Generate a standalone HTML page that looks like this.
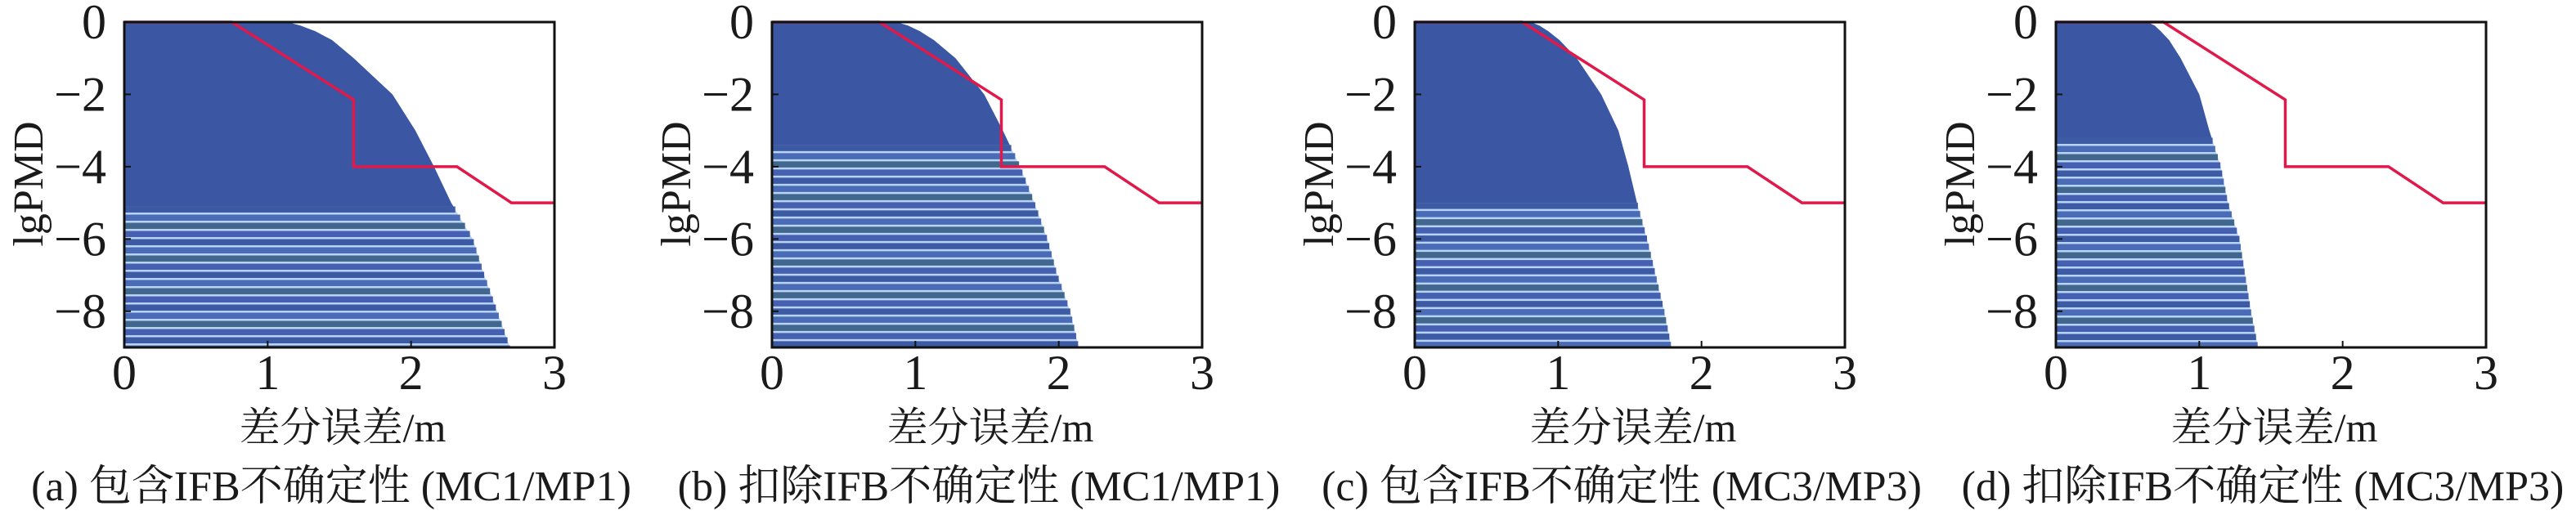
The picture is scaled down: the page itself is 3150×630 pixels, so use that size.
<!DOCTYPE html>
<html><head><meta charset="utf-8">
<style>
html,body{margin:0;padding:0;background:#fff;}
svg{display:block;}
text{font-family:"Liberation Serif","Noto Serif CJK SC","Noto Sans CJK SC",serif;fill:#1a1a1a;}
</style></head>
<body>
<svg id="chart" width="3150" height="630" viewBox="0 0 3150 630" xmlns="http://www.w3.org/2000/svg"></svg>
<script>
// ----- data -----
const yLevels = [0,-0.1,-0.25,-0.5,-1,-2,-3,-4,-5,-6,-7,-8,-9];
const envA = [1.14,1.23,1.33,1.45,1.6,1.87,2.03,2.16,2.28,2.43,2.51,2.6,2.69];
const envB = [0.87,0.95,1.03,1.13,1.28,1.48,1.61,1.73,1.83,1.92,1.99,2.08,2.14];
const envC = [0.81,0.87,0.93,1.01,1.13,1.3,1.42,1.49,1.55,1.62,1.68,1.74,1.79];
const envD = [0.64,0.69,0.73,0.79,0.87,1.0,1.07,1.15,1.2,1.28,1.32,1.36,1.41];
const solidLevels = [-5.1,-3.4,-5.0,-3.2];
const limitX = [0,0.75,1.6,1.6,2.32,2.7,3];
const limitY = [0,0,-2.15,-4,-4,-5,-5];
const xTicks = [0,1,2,3];
const yTicks = [0,-2,-4,-6,-8];
const captions = ["(a) 包含IFB不确定性 (MC1/MP1)","(b) 扣除IFB不确定性 (MC1/MP1)","(c) 包含IFB不确定性 (MC3/MP3)","(d) 扣除IFB不确定性 (MC3/MP3)"];
const panelLefts = [152,944,1730,2514];
const envs = [envA,envB,envC,envD];

const NS="http://www.w3.org/2000/svg";
const svg=document.getElementById('chart');
const W=526, TOP=27, BOT=425;
function mk(tag,attrs,parent){const e=document.createElementNS(NS,tag);for(const k in attrs)e.setAttribute(k,attrs[k]);(parent||svg).appendChild(e);return e;}
function envAt(env,v){
  if(v>=yLevels[0])return env[0];
  for(let i=0;i<yLevels.length-1;i++){
    if(v<=yLevels[i]&&v>=yLevels[i+1]){
      const f=(yLevels[i]-v)/(yLevels[i]-yLevels[i+1]);
      return env[i]*(1-f)+env[i+1]*f;
    }
  }
  return env[env.length-1];
}
const stripeCols=["#3d5aa5","#4a6bb6","#42678e","#4560b0"];

for(let p=0;p<4;p++){
  const L=panelLefts[p];
  const xs=v=>L+v/3*W;
  const ys=v=>TOP+(-v)/9*(BOT-TOP);
  const g=mk('g',{});
  
  
  const env=envs[p];
  let pts=[[xs(0),ys(0)]];
  for(let i=0;i<yLevels.length;i++)pts.push([xs(env[i]),ys(yLevels[i])]);
  pts.push([xs(0),ys(-9)]);
  const bg=mk('polygon',{points:pts.map(q=>q.join(',')).join(' '),fill:'#b9d4f2'},g);
  
  
  const sl=solidLevels[p];
  let sp=[[xs(0),ys(0)]];
  for(let v=0;v>=sl;v-=0.05)sp.push([xs(envAt(env,v)),ys(v)]);
  sp.push([xs(envAt(env,sl)),ys(sl)]);sp.push([xs(0),ys(sl)]);
  const solid=mk('polygon',{points:sp.map(q=>q.join(',')).join(' '),fill:'#3b56a2'},g);
  
  
  let k=0;
  for(let py=ys(sl);py<BOT-1;py+=10){
    const v=-(py+4-TOP)/(BOT-TOP)*9;
    const xe=xs(envAt(env,Math.max(-9,v)));
    const r=mk('rect',{x:xs(0),y:py,width:xe-xs(0),height:Math.min(7.5,BOT-py),fill:stripeCols[k%4]},g);
    
    
    k++;
  }
  const lp=limitX.map((x,i)=>xs(x)+','+ys(limitY[i])).join(' ');
  const line=mk('polyline',{points:lp,fill:'none',stroke:'#e0194a',"stroke-width":3.5,"stroke-linejoin":"miter"},g);
  
  
  const fr=mk('rect',{x:L,y:TOP,width:W,height:BOT-TOP,fill:'none',stroke:'#111',"stroke-width":3},g);
  
  
  xTicks.forEach(t=>{
    const tk=mk('line',{x1:xs(t),x2:xs(t),y1:BOT,y2:BOT-8,stroke:'#111',"stroke-width":2},g);
    
    
    const tx=mk('text',{x:xs(t),y:476,"text-anchor":"middle","font-size":60},g);
    tx.textContent=t;
    
    
  });
  yTicks.forEach(t=>{
    const tk=mk('line',{x1:L,x2:L+8,y1:ys(t),y2:ys(t),stroke:'#111',"stroke-width":2},g);
    
    
    const tx=mk('text',{x:L-22,y:ys(t)+20,"text-anchor":"end","font-size":60},g);
    tx.textContent=t===0?'0':'\u2212'+(-t);
    
    
  });
  const yt=mk('text',{x:0,y:0,"text-anchor":"middle","font-size":52,transform:`translate(${L-100},225) rotate(-90)`},g);
  yt.textContent='lgPMD';
  
  
  const xt=mk('text',{x:L+W/2+4,y:540,"text-anchor":"middle","font-size":50},g);
  xt.textContent='差分误差/m';
  
  
  const cp=mk('text',{x:L+W/2-10,y:612,"text-anchor":"middle","font-size":52},g);
  cp.textContent=captions[p];
  
  
}
</script>
</body></html>
